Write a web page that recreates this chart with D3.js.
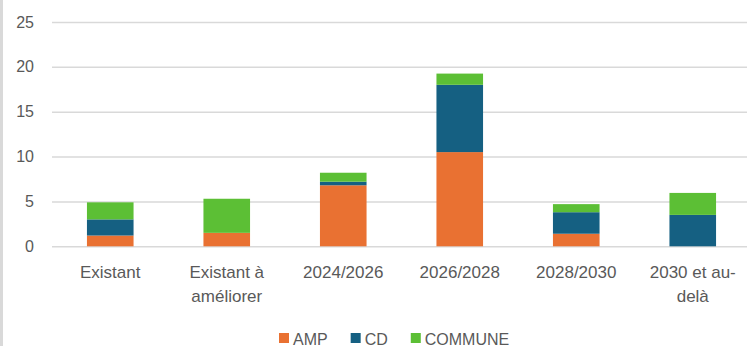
<html>
<head>
<meta charset="utf-8">
<script src="https://d3js.org/d3.v7.min.js"></script>
<style>
  body { margin: 0; background: #fff; }
  text { font-family: "Liberation Sans", Arial, sans-serif; fill: #595959; }
</style>
</head>
<body>
<svg id="chart" width="747" height="346"></svg>
<script>
// data
var categories = ["Existant", "Existant à améliorer", "2024/2026", "2026/2028", "2028/2030", "2030 et au-delà"];
var labelLines = [["Existant"], ["Existant à", "améliorer"], ["2024/2026"], ["2026/2028"], ["2028/2030"], ["2030 et au-", "delà"]];
var seriesNames = ["AMP", "CD", "COMMUNE"];
var amp = [1.2, 1.5, 6.8, 10.5, 1.4, 0];
var cd = [1.8, 0, 0.4, 7.5, 2.4, 3.5];
var commune = [1.9, 3.8, 1.0, 1.25, 0.9, 2.45];
var yTicks = [0, 5, 10, 15, 20, 25];
var colors = ["#e97132", "#156082", "#5cbf35"];

var svg = d3.select("#chart");

var rows = categories.map(function(c, i) {
    return { cat: c, AMP: amp[i], CD: cd[i], COMMUNE: commune[i] };
});

var x = d3.scaleBand()
    .domain(categories)
    .range([52, 751])
    .paddingInner(0.6)
    .paddingOuter(0.3);

var y = d3.scaleLinear()
    .domain([0, 25])
    .range([246.3, 22]);

// left border of the chart area
svg.append("rect")
    .attr("x", 0).attr("y", 0)
    .attr("width", 3).attr("height", 346)
    .attr("fill", "#d9d9d9");

// gridlines + y labels
var yAxis = svg.append("g")
    .attr("transform", "translate(52,0)")
    .call(d3.axisLeft(y).tickValues(yTicks).tickSize(-700).tickPadding(18));
yAxis.select(".domain").remove();
yAxis.selectAll(".tick line").attr("stroke", "#d9d9d9").attr("stroke-width", 1.5);
yAxis.selectAll(".tick text").attr("font-size", "16px").attr("fill", "#595959")
    .style("font-family", "'Liberation Sans', Arial, sans-serif");

// stacked bars
var stack = d3.stack().keys(seriesNames)(rows);
svg.append("g")
    .selectAll("g")
    .data(stack)
    .enter().append("g")
    .attr("fill", function(d, i) { return colors[i]; })
    .selectAll("rect")
    .data(function(d) { return d; })
    .enter().append("rect")
    .attr("x", function(d) { return x(d.data.cat); })
    .attr("width", x.bandwidth())
    .attr("y", function(d) { return y(d[1]); })
    .attr("height", function(d) { return y(d[0]) - y(d[1]); });

// x labels, wrapped like the original
var xl = svg.append("g")
    .selectAll("text")
    .data(categories)
    .enter().append("text")
    .attr("x", function(d) { return x(d) + x.bandwidth() / 2; })
    .attr("y", 278)
    .attr("text-anchor", "middle")
    .attr("font-size", "17px");
xl.each(function(d, i) {
    var t = d3.select(this);
    labelLines[i].forEach(function(line, j) {
        t.append("tspan")
            .attr("x", x(d) + x.bandwidth() / 2)
            .attr("dy", j === 0 ? 0 : 24)
            .text(line);
    });
});

// legend
var legend = svg.append("g");
var lx = 279;
seriesNames.forEach(function(name, i) {
    legend.append("rect")
        .attr("x", lx).attr("y", 333)
        .attr("width", 10).attr("height", 10)
        .attr("fill", colors[i]);
    var t = legend.append("text")
        .attr("x", lx + 14).attr("y", 344.5)
        .attr("font-size", "16px")
        .text(name);
    lx += 14 + t.node().getComputedTextLength() + 23;
});
</script>
</body>
</html>
